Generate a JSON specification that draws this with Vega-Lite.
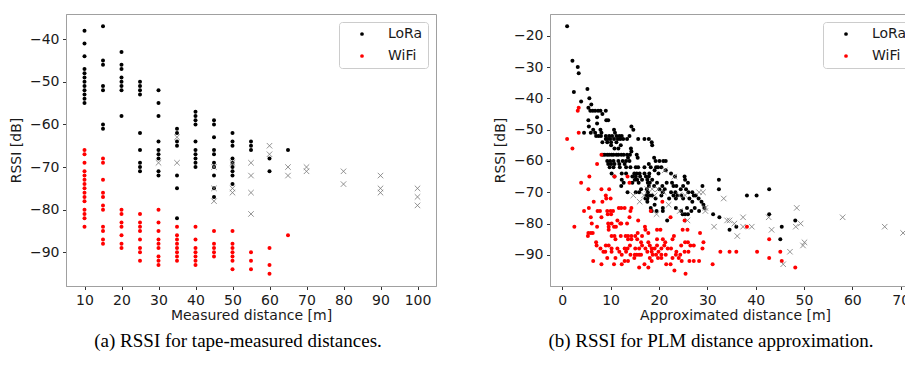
{
"$schema": "https://vega.github.io/schema/vega-lite/v6.json",
"padding": {"left": 8, "top": 13, "right": -16, "bottom": 0},
"spacing": 55,
"config": {
  "view": {"stroke": "#a0a0a0", "strokeWidth": 1},
  "axis": {"grid": false, "labelFont": "DejaVu Sans", "labelFontSize": 14, "titleFont": "DejaVu Sans", "titleFontSize": 14, "titleFontWeight": "normal", "labelColor": "#1a1a1a", "titleColor": "#1a1a1a", "tickColor": "#333", "tickSize": 3.5, "labelPadding": 3.5, "domainColor": "#a0a0a0", "labelOverlap": false, "tickCount": 12, "labelExpr": "replace(datum.label, '-', '−')"},
  "legend": {"orient": "top-right", "offset": 8, "labelFont": "DejaVu Sans", "labelFontSize": 14, "labelColor": "#1a1a1a", "padding": 5, "symbolOffset": 11, "labelOffset": 19, "rowPadding": 8, "strokeColor": "#cccccc", "fillColor": "white", "cornerRadius": 3, "symbolSize": 14, "symbolType": "circle", "symbolStrokeWidth": 0}
},
"datasets": {
"a": [
{"d":10,"r":-38,"s":"LoRa"},{"d":10,"r":-41,"s":"LoRa"},{"d":10,"r":-44,"s":"LoRa"},{"d":10,"r":-47,"s":"LoRa"},{"d":10,"r":-48,"s":"LoRa"},{"d":10,"r":-49,"s":"LoRa"},{"d":10,"r":-50,"s":"LoRa"},{"d":10,"r":-51,"s":"LoRa"},{"d":10,"r":-52,"s":"LoRa"},{"d":10,"r":-53,"s":"LoRa"},{"d":10,"r":-54,"s":"LoRa"},{"d":10,"r":-55,"s":"LoRa"},
{"d":15,"r":-37,"s":"LoRa"},{"d":15,"r":-45,"s":"LoRa"},{"d":15,"r":-46,"s":"LoRa"},{"d":15,"r":-51,"s":"LoRa"},{"d":15,"r":-52,"s":"LoRa"},{"d":15,"r":-60,"s":"LoRa"},{"d":15,"r":-61,"s":"LoRa"},
{"d":20,"r":-43,"s":"LoRa"},{"d":20,"r":-46,"s":"LoRa"},{"d":20,"r":-47,"s":"LoRa"},{"d":20,"r":-49,"s":"LoRa"},{"d":20,"r":-50,"s":"LoRa"},{"d":20,"r":-51,"s":"LoRa"},{"d":20,"r":-52,"s":"LoRa"},{"d":20,"r":-58,"s":"LoRa"},
{"d":25,"r":-50,"s":"LoRa"},{"d":25,"r":-51,"s":"LoRa"},{"d":25,"r":-52,"s":"LoRa"},{"d":25,"r":-53,"s":"LoRa"},{"d":25,"r":-62,"s":"LoRa"},{"d":25,"r":-66,"s":"LoRa"},{"d":25,"r":-69,"s":"LoRa"},{"d":25,"r":-70,"s":"LoRa"},{"d":25,"r":-71,"s":"LoRa"},
{"d":30,"r":-52,"s":"LoRa"},{"d":30,"r":-55,"s":"LoRa"},{"d":30,"r":-58,"s":"LoRa"},{"d":30,"r":-64,"s":"LoRa"},{"d":30,"r":-66,"s":"LoRa"},{"d":30,"r":-67,"s":"LoRa"},{"d":30,"r":-68,"s":"LoRa"},{"d":30,"r":-71,"s":"LoRa"},{"d":30,"r":-72,"s":"LoRa"},
{"d":35,"r":-61,"s":"LoRa"},{"d":35,"r":-62,"s":"LoRa"},{"d":35,"r":-64,"s":"LoRa"},{"d":35,"r":-65,"s":"LoRa"},{"d":35,"r":-72,"s":"LoRa"},{"d":35,"r":-75,"s":"LoRa"},{"d":35,"r":-82,"s":"LoRa"},
{"d":40,"r":-57,"s":"LoRa"},{"d":40,"r":-58,"s":"LoRa"},{"d":40,"r":-59,"s":"LoRa"},{"d":40,"r":-60,"s":"LoRa"},{"d":40,"r":-64,"s":"LoRa"},{"d":40,"r":-66,"s":"LoRa"},{"d":40,"r":-67,"s":"LoRa"},{"d":40,"r":-68,"s":"LoRa"},{"d":40,"r":-69,"s":"LoRa"},{"d":40,"r":-70,"s":"LoRa"},
{"d":45,"r":-59,"s":"LoRa"},{"d":45,"r":-60,"s":"LoRa"},{"d":45,"r":-63,"s":"LoRa"},{"d":45,"r":-66,"s":"LoRa"},{"d":45,"r":-67,"s":"LoRa"},{"d":45,"r":-69,"s":"LoRa"},{"d":45,"r":-70,"s":"LoRa"},{"d":45,"r":-72,"s":"LoRa"},{"d":45,"r":-75,"s":"LoRa"},{"d":45,"r":-77,"s":"LoRa"},
{"d":50,"r":-62,"s":"LoRa"},{"d":50,"r":-64,"s":"LoRa"},{"d":50,"r":-65,"s":"LoRa"},{"d":50,"r":-68,"s":"LoRa"},{"d":50,"r":-69,"s":"LoRa"},{"d":50,"r":-70,"s":"LoRa"},{"d":50,"r":-71,"s":"LoRa"},{"d":50,"r":-72,"s":"LoRa"},{"d":50,"r":-74,"s":"LoRa"},
{"d":55,"r":-64,"s":"LoRa"},{"d":55,"r":-65,"s":"LoRa"},{"d":55,"r":-66,"s":"LoRa"},
{"d":60,"r":-68,"s":"LoRa"},{"d":60,"r":-71,"s":"LoRa"},
{"d":65,"r":-66,"s":"LoRa"},
{"d":10,"r":-66,"s":"WiFi"},{"d":10,"r":-67,"s":"WiFi"},{"d":10,"r":-69,"s":"WiFi"},{"d":10,"r":-71,"s":"WiFi"},{"d":10,"r":-72,"s":"WiFi"},{"d":10,"r":-73,"s":"WiFi"},{"d":10,"r":-74,"s":"WiFi"},{"d":10,"r":-75,"s":"WiFi"},{"d":10,"r":-76,"s":"WiFi"},{"d":10,"r":-77,"s":"WiFi"},{"d":10,"r":-78,"s":"WiFi"},{"d":10,"r":-80,"s":"WiFi"},{"d":10,"r":-81,"s":"WiFi"},{"d":10,"r":-82,"s":"WiFi"},{"d":10,"r":-84,"s":"WiFi"},
{"d":15,"r":-68,"s":"WiFi"},{"d":15,"r":-69,"s":"WiFi"},{"d":15,"r":-73,"s":"WiFi"},{"d":15,"r":-76,"s":"WiFi"},{"d":15,"r":-77,"s":"WiFi"},{"d":15,"r":-79,"s":"WiFi"},{"d":15,"r":-80,"s":"WiFi"},{"d":15,"r":-84,"s":"WiFi"},{"d":15,"r":-85,"s":"WiFi"},{"d":15,"r":-87,"s":"WiFi"},{"d":15,"r":-88,"s":"WiFi"},
{"d":20,"r":-80,"s":"WiFi"},{"d":20,"r":-81,"s":"WiFi"},{"d":20,"r":-83,"s":"WiFi"},{"d":20,"r":-84,"s":"WiFi"},{"d":20,"r":-86,"s":"WiFi"},{"d":20,"r":-88,"s":"WiFi"},{"d":20,"r":-89,"s":"WiFi"},
{"d":25,"r":-81,"s":"WiFi"},{"d":25,"r":-83,"s":"WiFi"},{"d":25,"r":-84,"s":"WiFi"},{"d":25,"r":-85,"s":"WiFi"},{"d":25,"r":-87,"s":"WiFi"},{"d":25,"r":-89,"s":"WiFi"},{"d":25,"r":-90,"s":"WiFi"},{"d":25,"r":-92,"s":"WiFi"},
{"d":30,"r":-80,"s":"WiFi"},{"d":30,"r":-83,"s":"WiFi"},{"d":30,"r":-85,"s":"WiFi"},{"d":30,"r":-87,"s":"WiFi"},{"d":30,"r":-88,"s":"WiFi"},{"d":30,"r":-89,"s":"WiFi"},{"d":30,"r":-91,"s":"WiFi"},{"d":30,"r":-92,"s":"WiFi"},{"d":30,"r":-93,"s":"WiFi"},
{"d":35,"r":-84,"s":"WiFi"},{"d":35,"r":-86,"s":"WiFi"},{"d":35,"r":-87,"s":"WiFi"},{"d":35,"r":-88,"s":"WiFi"},{"d":35,"r":-89,"s":"WiFi"},{"d":35,"r":-90,"s":"WiFi"},{"d":35,"r":-91,"s":"WiFi"},{"d":35,"r":-92,"s":"WiFi"},
{"d":40,"r":-84,"s":"WiFi"},{"d":40,"r":-87,"s":"WiFi"},{"d":40,"r":-89,"s":"WiFi"},{"d":40,"r":-90,"s":"WiFi"},{"d":40,"r":-91,"s":"WiFi"},{"d":40,"r":-92,"s":"WiFi"},{"d":40,"r":-93,"s":"WiFi"},
{"d":45,"r":-85,"s":"WiFi"},{"d":45,"r":-88,"s":"WiFi"},{"d":45,"r":-89,"s":"WiFi"},{"d":45,"r":-90,"s":"WiFi"},{"d":45,"r":-91,"s":"WiFi"},
{"d":50,"r":-85,"s":"WiFi"},{"d":50,"r":-88,"s":"WiFi"},{"d":50,"r":-89,"s":"WiFi"},{"d":50,"r":-90,"s":"WiFi"},{"d":50,"r":-91,"s":"WiFi"},{"d":50,"r":-92,"s":"WiFi"},{"d":50,"r":-94,"s":"WiFi"},
{"d":55,"r":-90,"s":"WiFi"},{"d":55,"r":-92,"s":"WiFi"},{"d":55,"r":-94,"s":"WiFi"},
{"d":60,"r":-89,"s":"WiFi"},{"d":60,"r":-93,"s":"WiFi"},{"d":60,"r":-95,"s":"WiFi"},
{"d":65,"r":-86,"s":"WiFi"},
{"d":30,"r":-69,"s":"Lost"},{"d":35,"r":-63,"s":"Lost"},{"d":35,"r":-69,"s":"Lost"},{"d":45,"r":-70,"s":"Lost"},{"d":45,"r":-75,"s":"Lost"},{"d":45,"r":-78,"s":"Lost"},{"d":50,"r":-69,"s":"Lost"},{"d":50,"r":-75,"s":"Lost"},{"d":50,"r":-76,"s":"Lost"},{"d":55,"r":-69,"s":"Lost"},{"d":55,"r":-72,"s":"Lost"},{"d":55,"r":-76,"s":"Lost"},{"d":55,"r":-81,"s":"Lost"},{"d":60,"r":-65,"s":"Lost"},{"d":60,"r":-67,"s":"Lost"},{"d":65,"r":-70,"s":"Lost"},{"d":65,"r":-72,"s":"Lost"},{"d":70,"r":-70,"s":"Lost"},{"d":70,"r":-71,"s":"Lost"},{"d":80,"r":-71,"s":"Lost"},{"d":80,"r":-74,"s":"Lost"},{"d":90,"r":-72,"s":"Lost"},{"d":90,"r":-75,"s":"Lost"},{"d":90,"r":-76,"s":"Lost"},{"d":100,"r":-75,"s":"Lost"},{"d":100,"r":-77,"s":"Lost"},{"d":100,"r":-79,"s":"Lost"}
],
"b": [
{"d":1.0,"r":-17,"s":"LoRa"},{"d":2.1,"r":-28,"s":"LoRa"},{"d":3.2,"r":-30,"s":"LoRa"},{"d":3.4,"r":-32,"s":"LoRa"},{"d":2.4,"r":-38,"s":"LoRa"},{"d":5.2,"r":-37,"s":"LoRa"},{"d":3.9,"r":-41,"s":"LoRa"},{"d":5.6,"r":-40,"s":"LoRa"},{"d":6.0,"r":-42,"s":"LoRa"},{"d":5.4,"r":-43,"s":"LoRa"},
{"d":5.8,"r":-44,"s":"LoRa"},{"d":6.3,"r":-44,"s":"LoRa"},{"d":6.8,"r":-44,"s":"LoRa"},{"d":7.4,"r":-44,"s":"LoRa"},{"d":7.9,"r":-44,"s":"LoRa"},{"d":9.0,"r":-44,"s":"LoRa"},{"d":8.3,"r":-45,"s":"LoRa"},{"d":7.2,"r":-46,"s":"LoRa"},{"d":5.4,"r":-47,"s":"LoRa"},{"d":9.1,"r":-47,"s":"LoRa"},{"d":9.5,"r":-47,"s":"LoRa"},{"d":7.2,"r":-48,"s":"LoRa"},{"d":5.5,"r":-49,"s":"LoRa"},{"d":6.4,"r":-50,"s":"LoRa"},{"d":7.9,"r":-50,"s":"LoRa"},
{"d":4.5,"r":-51,"s":"LoRa"},{"d":5.9,"r":-51,"s":"LoRa"},{"d":6.8,"r":-51,"s":"LoRa"},{"d":8.1,"r":-51,"s":"LoRa"},{"d":10.7,"r":-50,"s":"LoRa"},{"d":10.9,"r":-51,"s":"LoRa"},
{"d":7.0,"r":-52,"s":"LoRa"},{"d":7.5,"r":-52,"s":"LoRa"},{"d":8.0,"r":-52,"s":"LoRa"},{"d":9.0,"r":-52,"s":"LoRa"},{"d":9.7,"r":-52,"s":"LoRa"},{"d":10.3,"r":-52,"s":"LoRa"},{"d":11.2,"r":-52,"s":"LoRa"},{"d":11.8,"r":-52,"s":"LoRa"},{"d":12.3,"r":-52,"s":"LoRa"},
{"d":9.0,"r":-53,"s":"LoRa"},{"d":9.4,"r":-53,"s":"LoRa"},{"d":9.9,"r":-53,"s":"LoRa"},{"d":10.7,"r":-53,"s":"LoRa"},{"d":11.5,"r":-53,"s":"LoRa"},{"d":12.0,"r":-53,"s":"LoRa"},{"d":12.6,"r":-53,"s":"LoRa"},{"d":13.4,"r":-53,"s":"LoRa"},{"d":13.9,"r":-52,"s":"LoRa"},
{"d":14.3,"r":-49,"s":"LoRa"},{"d":14.7,"r":-50,"s":"LoRa"},{"d":15.7,"r":-53,"s":"LoRa"},{"d":17.0,"r":-53,"s":"LoRa"},{"d":17.9,"r":-53,"s":"LoRa"},{"d":18.5,"r":-54,"s":"LoRa"},{"d":18.6,"r":-55,"s":"LoRa"},
{"d":8.3,"r":-54,"s":"LoRa"},{"d":9.3,"r":-54,"s":"LoRa"},{"d":10.1,"r":-54,"s":"LoRa"},{"d":11.2,"r":-54,"s":"LoRa"},
{"d":10.1,"r":-55,"s":"LoRa"},{"d":10.8,"r":-56,"s":"LoRa"},{"d":11.6,"r":-56,"s":"LoRa"},{"d":12.1,"r":-55,"s":"LoRa"},
{"d":14.2,"r":-56,"s":"LoRa"},{"d":14.3,"r":-57,"s":"LoRa"},
{"d":8.4,"r":-58,"s":"LoRa"},{"d":8.8,"r":-58,"s":"LoRa"},{"d":9.3,"r":-58,"s":"LoRa"},{"d":9.7,"r":-58,"s":"LoRa"},{"d":10.2,"r":-58,"s":"LoRa"},{"d":10.6,"r":-58,"s":"LoRa"},{"d":11.2,"r":-58,"s":"LoRa"},{"d":11.6,"r":-58,"s":"LoRa"},{"d":12.2,"r":-58,"s":"LoRa"},{"d":12.7,"r":-58,"s":"LoRa"},{"d":13.4,"r":-58,"s":"LoRa"},{"d":14.0,"r":-58,"s":"LoRa"},
{"d":13.6,"r":-59,"s":"LoRa"},{"d":13.9,"r":-60,"s":"LoRa"},{"d":15.4,"r":-58,"s":"LoRa"},{"d":15.6,"r":-59,"s":"LoRa"},
{"d":19.0,"r":-59,"s":"LoRa"},{"d":19.3,"r":-60,"s":"LoRa"},{"d":20.1,"r":-60,"s":"LoRa"},{"d":20.9,"r":-60,"s":"LoRa"},{"d":21.4,"r":-60,"s":"LoRa"},
{"d":9.3,"r":-60,"s":"LoRa"},{"d":9.9,"r":-60,"s":"LoRa"},{"d":10.6,"r":-60,"s":"LoRa"},{"d":11.6,"r":-60,"s":"LoRa"},{"d":12.5,"r":-60,"s":"LoRa"},{"d":13.2,"r":-60,"s":"LoRa"},
{"d":9.5,"r":-61,"s":"LoRa"},{"d":10.1,"r":-61,"s":"LoRa"},{"d":10.8,"r":-61,"s":"LoRa"},{"d":11.8,"r":-61,"s":"LoRa"},{"d":12.9,"r":-61,"s":"LoRa"},
{"d":9.8,"r":-62,"s":"LoRa"},{"d":10.6,"r":-62,"s":"LoRa"},{"d":11.9,"r":-62,"s":"LoRa"},{"d":13.2,"r":-62,"s":"LoRa"},{"d":14.1,"r":-62,"s":"LoRa"},{"d":15.2,"r":-62,"s":"LoRa"},{"d":15.7,"r":-62,"s":"LoRa"},{"d":17.0,"r":-62,"s":"LoRa"},{"d":17.9,"r":-61,"s":"LoRa"},{"d":18.3,"r":-62,"s":"LoRa"},{"d":19.4,"r":-62,"s":"LoRa"},{"d":19.8,"r":-62,"s":"LoRa"},{"d":20.5,"r":-62,"s":"LoRa"},
{"d":10.2,"r":-64,"s":"LoRa"},{"d":12.3,"r":-64,"s":"LoRa"},{"d":13.2,"r":-64,"s":"LoRa"},{"d":14.9,"r":-64,"s":"LoRa"},{"d":15.4,"r":-64,"s":"LoRa"},{"d":16.0,"r":-64,"s":"LoRa"},{"d":17.0,"r":-64,"s":"LoRa"},{"d":18.0,"r":-64,"s":"LoRa"},{"d":19.1,"r":-63,"s":"LoRa"},{"d":19.9,"r":-64,"s":"LoRa"},{"d":21.4,"r":-63,"s":"LoRa"},{"d":22.5,"r":-64,"s":"LoRa"},
{"d":10.8,"r":-65,"s":"LoRa"},{"d":14.5,"r":-65,"s":"LoRa"},{"d":15.2,"r":-65,"s":"LoRa"},{"d":16.1,"r":-65,"s":"LoRa"},{"d":17.3,"r":-65,"s":"LoRa"},{"d":17.9,"r":-65,"s":"LoRa"},{"d":18.6,"r":-66,"s":"LoRa"},{"d":23.3,"r":-65,"s":"LoRa"},{"d":25.3,"r":-65,"s":"LoRa"},
{"d":12.3,"r":-66,"s":"LoRa"},{"d":12.7,"r":-67,"s":"LoRa"},{"d":15.0,"r":-66,"s":"LoRa"},{"d":15.5,"r":-66,"s":"LoRa"},{"d":16.5,"r":-66,"s":"LoRa"},{"d":17.6,"r":-66,"s":"LoRa"},{"d":18.1,"r":-67,"s":"LoRa"},
{"d":12.2,"r":-68,"s":"LoRa"},{"d":14.5,"r":-67,"s":"LoRa"},{"d":15.8,"r":-67,"s":"LoRa"},{"d":17.7,"r":-67,"s":"LoRa"},{"d":19.6,"r":-67,"s":"LoRa"},{"d":21.6,"r":-67,"s":"LoRa"},{"d":22.7,"r":-67,"s":"LoRa"},{"d":25.4,"r":-66,"s":"LoRa"},{"d":26.0,"r":-67,"s":"LoRa"},
{"d":17.9,"r":-68,"s":"LoRa"},{"d":19.0,"r":-68,"s":"LoRa"},{"d":20.7,"r":-68,"s":"LoRa"},{"d":23.0,"r":-68,"s":"LoRa"},{"d":23.6,"r":-68,"s":"LoRa"},{"d":25.0,"r":-68,"s":"LoRa"},{"d":29.0,"r":-68,"s":"LoRa"},
{"d":16.3,"r":-69,"s":"LoRa"},{"d":17.5,"r":-69,"s":"LoRa"},{"d":20.1,"r":-69,"s":"LoRa"},{"d":21.2,"r":-69,"s":"LoRa"},{"d":24.5,"r":-69,"s":"LoRa"},{"d":25.6,"r":-69,"s":"LoRa"},
{"d":13.5,"r":-70,"s":"LoRa"},{"d":15.2,"r":-70,"s":"LoRa"},{"d":15.9,"r":-70,"s":"LoRa"},{"d":17.7,"r":-70,"s":"LoRa"},{"d":20.8,"r":-70,"s":"LoRa"},{"d":22.5,"r":-70,"s":"LoRa"},{"d":23.4,"r":-70,"s":"LoRa"},{"d":26.1,"r":-70,"s":"LoRa"},{"d":26.9,"r":-70,"s":"LoRa"},
{"d":17.4,"r":-71,"s":"LoRa"},{"d":18.1,"r":-71,"s":"LoRa"},{"d":18.6,"r":-71,"s":"LoRa"},{"d":20.5,"r":-71,"s":"LoRa"},{"d":23.0,"r":-71,"s":"LoRa"},{"d":23.8,"r":-71,"s":"LoRa"},{"d":24.6,"r":-71,"s":"LoRa"},{"d":27.2,"r":-71,"s":"LoRa"},{"d":27.6,"r":-71,"s":"LoRa"},
{"d":17.2,"r":-72,"s":"LoRa"},{"d":17.6,"r":-72,"s":"LoRa"},{"d":19.3,"r":-72,"s":"LoRa"},{"d":22.1,"r":-72,"s":"LoRa"},{"d":23.5,"r":-72,"s":"LoRa"},{"d":25.0,"r":-72,"s":"LoRa"},{"d":26.3,"r":-72,"s":"LoRa"},{"d":28.2,"r":-72,"s":"LoRa"},
{"d":17.6,"r":-73,"s":"LoRa"},{"d":19.1,"r":-74,"s":"LoRa"},{"d":26.9,"r":-73,"s":"LoRa"},{"d":28.8,"r":-73,"s":"LoRa"},{"d":29.2,"r":-74,"s":"LoRa"},
{"d":18.3,"r":-75,"s":"LoRa"},{"d":20.8,"r":-75,"s":"LoRa"},{"d":23.5,"r":-75,"s":"LoRa"},{"d":25.8,"r":-75,"s":"LoRa"},{"d":27.4,"r":-75,"s":"LoRa"},{"d":29.4,"r":-75,"s":"LoRa"},
{"d":18.5,"r":-76,"s":"LoRa"},{"d":19.5,"r":-76,"s":"LoRa"},{"d":20.8,"r":-76,"s":"LoRa"},{"d":24.6,"r":-76,"s":"LoRa"},{"d":26.7,"r":-76,"s":"LoRa"},{"d":28.3,"r":-76,"s":"LoRa"},
{"d":24.9,"r":-77,"s":"LoRa"},{"d":25.4,"r":-77,"s":"LoRa"},{"d":26.0,"r":-77,"s":"LoRa"},{"d":31.2,"r":-77,"s":"LoRa"},
{"d":21.7,"r":-79,"s":"LoRa"},{"d":32.5,"r":-78,"s":"LoRa"},{"d":32.4,"r":-66,"s":"LoRa"},{"d":32.4,"r":-69,"s":"LoRa"},{"d":38.2,"r":-71,"s":"LoRa"},{"d":40.2,"r":-71,"s":"LoRa"},{"d":42.8,"r":-69,"s":"LoRa"},{"d":42.8,"r":-77,"s":"LoRa"},{"d":36.0,"r":-81,"s":"LoRa"},{"d":34.6,"r":-82,"s":"LoRa"},{"d":45.4,"r":-81,"s":"LoRa"},{"d":48.2,"r":-79,"s":"LoRa"},{"d":45.1,"r":-85,"s":"LoRa"},
{"d":1.0,"r":-53,"s":"WiFi"},{"d":2.1,"r":-56,"s":"WiFi"},{"d":3.4,"r":-43,"s":"WiFi"},{"d":3.2,"r":-44,"s":"WiFi"},{"d":3.4,"r":-51,"s":"WiFi"},{"d":2.5,"r":-81,"s":"WiFi"},{"d":3.9,"r":-67,"s":"WiFi"},
{"d":8.1,"r":-58,"s":"WiFi"},{"d":7.2,"r":-61,"s":"WiFi"},{"d":5.6,"r":-65,"s":"WiFi"},{"d":10.8,"r":-65,"s":"WiFi"},{"d":13.5,"r":-65,"s":"WiFi"},{"d":13.9,"r":-67,"s":"WiFi"},
{"d":5.4,"r":-69,"s":"WiFi"},{"d":8.1,"r":-69,"s":"WiFi"},{"d":9.7,"r":-69,"s":"WiFi"},
{"d":6.5,"r":-73,"s":"WiFi"},{"d":9.0,"r":-71,"s":"WiFi"},{"d":9.1,"r":-72,"s":"WiFi"},{"d":10.0,"r":-72,"s":"WiFi"},{"d":8.3,"r":-73,"s":"WiFi"},
{"d":4.5,"r":-76,"s":"WiFi"},{"d":5.5,"r":-75,"s":"WiFi"},{"d":7.3,"r":-76,"s":"WiFi"},{"d":7.8,"r":-76,"s":"WiFi"},{"d":9.3,"r":-76,"s":"WiFi"},{"d":10.0,"r":-76,"s":"WiFi"},{"d":10.5,"r":-76,"s":"WiFi"},{"d":11.7,"r":-75,"s":"WiFi"},{"d":12.2,"r":-75,"s":"WiFi"},{"d":12.9,"r":-75,"s":"WiFi"},{"d":14.3,"r":-75,"s":"WiFi"},{"d":14.1,"r":-76,"s":"WiFi"},
{"d":9.4,"r":-77,"s":"WiFi"},{"d":10.1,"r":-77,"s":"WiFi"},
{"d":5.9,"r":-78,"s":"WiFi"},{"d":8.1,"r":-78,"s":"WiFi"},{"d":13.9,"r":-78,"s":"WiFi"},{"d":18.3,"r":-76,"s":"WiFi"},{"d":20.7,"r":-73,"s":"WiFi"},
{"d":6.1,"r":-80,"s":"WiFi"},{"d":9.5,"r":-80,"s":"WiFi"},{"d":10.2,"r":-80,"s":"WiFi"},{"d":11.4,"r":-79,"s":"WiFi"},{"d":12.0,"r":-80,"s":"WiFi"},{"d":13.4,"r":-80,"s":"WiFi"},{"d":15.7,"r":-79,"s":"WiFi"},{"d":17.1,"r":-81,"s":"WiFi"},{"d":17.2,"r":-82,"s":"WiFi"},
{"d":5.4,"r":-83,"s":"WiFi"},{"d":5.9,"r":-83,"s":"WiFi"},{"d":6.3,"r":-83,"s":"WiFi"},{"d":7.2,"r":-81,"s":"WiFi"},{"d":9.6,"r":-81,"s":"WiFi"},{"d":10.7,"r":-81,"s":"WiFi"},{"d":11.1,"r":-81,"s":"WiFi"},{"d":12.2,"r":-80,"s":"WiFi"},
{"d":5.3,"r":-84,"s":"WiFi"},{"d":9.6,"r":-82,"s":"WiFi"},{"d":10.2,"r":-84,"s":"WiFi"},{"d":10.8,"r":-84,"s":"WiFi"},{"d":12.1,"r":-84,"s":"WiFi"},{"d":13.1,"r":-84,"s":"WiFi"},{"d":13.6,"r":-84,"s":"WiFi"},{"d":14.3,"r":-84,"s":"WiFi"},{"d":15.1,"r":-84,"s":"WiFi"},{"d":15.6,"r":-83,"s":"WiFi"},{"d":16.5,"r":-84,"s":"WiFi"},{"d":17.8,"r":-83,"s":"WiFi"},{"d":19.6,"r":-82,"s":"WiFi"},{"d":20.3,"r":-82,"s":"WiFi"},{"d":22.4,"r":-78,"s":"WiFi"},{"d":24.9,"r":-82,"s":"WiFi"},{"d":25.9,"r":-82,"s":"WiFi"},{"d":25.3,"r":-79,"s":"WiFi"},
{"d":7.0,"r":-86,"s":"WiFi"},{"d":11.0,"r":-85,"s":"WiFi"},{"d":13.6,"r":-85,"s":"WiFi"},{"d":14.3,"r":-85,"s":"WiFi"},{"d":15.5,"r":-85,"s":"WiFi"},{"d":16.3,"r":-86,"s":"WiFi"},{"d":17.8,"r":-86,"s":"WiFi"},{"d":19.6,"r":-85,"s":"WiFi"},{"d":20.8,"r":-85,"s":"WiFi"},{"d":21.3,"r":-86,"s":"WiFi"},{"d":22.8,"r":-85,"s":"WiFi"},{"d":23.1,"r":-84,"s":"WiFi"},{"d":24.6,"r":-87,"s":"WiFi"},{"d":25.4,"r":-86,"s":"WiFi"},{"d":26.0,"r":-86,"s":"WiFi"},{"d":26.5,"r":-87,"s":"WiFi"},{"d":27.2,"r":-87,"s":"WiFi"},{"d":28.5,"r":-83,"s":"WiFi"},{"d":29.2,"r":-86,"s":"WiFi"},
{"d":7.1,"r":-87,"s":"WiFi"},{"d":7.9,"r":-88,"s":"WiFi"},{"d":9.0,"r":-87,"s":"WiFi"},{"d":9.6,"r":-87,"s":"WiFi"},{"d":10.2,"r":-88,"s":"WiFi"},{"d":11.4,"r":-88,"s":"WiFi"},{"d":12.9,"r":-88,"s":"WiFi"},{"d":13.5,"r":-88,"s":"WiFi"},{"d":14.0,"r":-87,"s":"WiFi"},{"d":15.1,"r":-88,"s":"WiFi"},{"d":15.9,"r":-88,"s":"WiFi"},{"d":16.5,"r":-87,"s":"WiFi"},{"d":17.2,"r":-88,"s":"WiFi"},{"d":18.1,"r":-87,"s":"WiFi"},{"d":18.5,"r":-88,"s":"WiFi"},{"d":19.1,"r":-88,"s":"WiFi"},{"d":19.6,"r":-87,"s":"WiFi"},{"d":20.5,"r":-88,"s":"WiFi"},{"d":21.1,"r":-87,"s":"WiFi"},{"d":21.8,"r":-88,"s":"WiFi"},{"d":22.5,"r":-88,"s":"WiFi"},{"d":23.6,"r":-89,"s":"WiFi"},{"d":26.1,"r":-89,"s":"WiFi"},{"d":29.0,"r":-88,"s":"WiFi"},
{"d":8.5,"r":-89,"s":"WiFi"},{"d":8.9,"r":-89,"s":"WiFi"},{"d":10.2,"r":-89,"s":"WiFi"},{"d":11.8,"r":-89,"s":"WiFi"},{"d":12.3,"r":-90,"s":"WiFi"},{"d":13.2,"r":-89,"s":"WiFi"},{"d":14.1,"r":-90,"s":"WiFi"},{"d":15.0,"r":-90,"s":"WiFi"},{"d":15.4,"r":-90,"s":"WiFi"},{"d":15.9,"r":-90,"s":"WiFi"},{"d":16.3,"r":-90,"s":"WiFi"},{"d":17.6,"r":-89,"s":"WiFi"},{"d":18.5,"r":-89,"s":"WiFi"},{"d":18.7,"r":-90,"s":"WiFi"},{"d":19.4,"r":-90,"s":"WiFi"},{"d":19.9,"r":-89,"s":"WiFi"},{"d":20.5,"r":-90,"s":"WiFi"},{"d":21.4,"r":-90,"s":"WiFi"},{"d":23.5,"r":-90,"s":"WiFi"},{"d":24.4,"r":-90,"s":"WiFi"},{"d":25.3,"r":-89,"s":"WiFi"},{"d":32.7,"r":-89,"s":"WiFi"},{"d":34.6,"r":-89,"s":"WiFi"},{"d":36.0,"r":-89,"s":"WiFi"},{"d":40.3,"r":-89,"s":"WiFi"},{"d":45.1,"r":-89,"s":"WiFi"},
{"d":6.4,"r":-92,"s":"WiFi"},{"d":8.1,"r":-93,"s":"WiFi"},{"d":9.3,"r":-91,"s":"WiFi"},{"d":10.7,"r":-93,"s":"WiFi"},{"d":11.0,"r":-91,"s":"WiFi"},{"d":12.3,"r":-93,"s":"WiFi"},{"d":12.9,"r":-92,"s":"WiFi"},{"d":13.6,"r":-92,"s":"WiFi"},{"d":14.9,"r":-91,"s":"WiFi"},{"d":15.9,"r":-94,"s":"WiFi"},{"d":17.0,"r":-93,"s":"WiFi"},{"d":17.8,"r":-94,"s":"WiFi"},{"d":18.1,"r":-91,"s":"WiFi"},{"d":18.5,"r":-92,"s":"WiFi"},{"d":19.8,"r":-91,"s":"WiFi"},{"d":20.5,"r":-91,"s":"WiFi"},{"d":21.5,"r":-93,"s":"WiFi"},{"d":22.4,"r":-93,"s":"WiFi"},{"d":22.8,"r":-91,"s":"WiFi"},{"d":23.2,"r":-95,"s":"WiFi"},{"d":24.1,"r":-91,"s":"WiFi"},{"d":24.7,"r":-92,"s":"WiFi"},{"d":25.5,"r":-96,"s":"WiFi"},{"d":26.3,"r":-92,"s":"WiFi"},{"d":27.2,"r":-92,"s":"WiFi"},{"d":28.3,"r":-92,"s":"WiFi"},{"d":31.1,"r":-93,"s":"WiFi"},{"d":42.8,"r":-91,"s":"WiFi"},{"d":45.4,"r":-92,"s":"WiFi"},{"d":48.2,"r":-94,"s":"WiFi"},{"d":42.8,"r":-85,"s":"WiFi"},{"d":38.2,"r":-81,"s":"WiFi"},
{"d":14.7,"r":-71,"s":"Lost"},{"d":16.9,"r":-71,"s":"Lost"},{"d":17.6,"r":-69,"s":"Lost"},{"d":18.6,"r":-69,"s":"Lost"},{"d":19.1,"r":-71,"s":"Lost"},{"d":19.5,"r":-77,"s":"Lost"},{"d":19.8,"r":-69,"s":"Lost"},{"d":21.2,"r":-63,"s":"Lost"},{"d":23.2,"r":-65,"s":"Lost"},{"d":24.2,"r":-71,"s":"Lost"},{"d":24.3,"r":-76,"s":"Lost"},{"d":25.4,"r":-71,"s":"Lost"},{"d":25.9,"r":-79,"s":"Lost"},{"d":28.3,"r":-70,"s":"Lost"},{"d":29.1,"r":-70,"s":"Lost"},{"d":29.6,"r":-76,"s":"Lost"},{"d":29.6,"r":-75,"s":"Lost"},{"d":31.4,"r":-81,"s":"Lost"},{"d":33.4,"r":-72,"s":"Lost"},{"d":34.1,"r":-79,"s":"Lost"},{"d":34.6,"r":-79,"s":"Lost"},{"d":35.6,"r":-80,"s":"Lost"},{"d":36.2,"r":-84,"s":"Lost"},{"d":37.4,"r":-78,"s":"Lost"},{"d":37.4,"r":-81,"s":"Lost"},{"d":39.2,"r":-81,"s":"Lost"},{"d":42.7,"r":-78,"s":"Lost"},{"d":43.3,"r":-82,"s":"Lost"},{"d":45.7,"r":-93,"s":"Lost"},{"d":47.1,"r":-89,"s":"Lost"},{"d":48.3,"r":-81,"s":"Lost"},{"d":48.5,"r":-75,"s":"Lost"},{"d":49.3,"r":-80,"s":"Lost"},{"d":49.8,"r":-87,"s":"Lost"},{"d":50.1,"r":-86,"s":"Lost"},{"d":58.0,"r":-78,"s":"Lost"},{"d":66.7,"r":-81,"s":"Lost"},{"d":70.5,"r":-83,"s":"Lost"},{"d":21.0,"r":-70,"s":"Lost"},{"d":22.0,"r":-74,"s":"Lost"},{"d":16.0,"r":-73,"s":"Lost"}
]
},
"hconcat": [
{
  "width": 370, "height": 272,
  "data": {"name": "a"},
  "title": {"text": "(a) RSSI for tape-measured distances.", "orient": "bottom", "font": "Liberation Serif", "fontSize": 19, "fontWeight": "normal", "color": "#000", "anchor": "middle", "offset": 10, "dx": -13},
  "layer": [
    {"transform": [{"filter": "datum.s != 'Lost'"}],
     "mark": {"type": "point", "filled": true, "size": 16, "opacity": 1, "strokeWidth": 0},
     "encoding": {
       "x": {"field": "d", "type": "quantitative", "scale": {"domain": [5, 105], "nice": false, "zero": false}, "axis": {"values": [10,20,30,40,50,60,70,80,90,100], "tickCount": 12, "title": "Measured distance [m]", "titlePadding": 1, "labelOverlap": false}},
       "y": {"field": "r", "type": "quantitative", "scale": {"domain": [-97.9, -34.1], "nice": false, "zero": false}, "axis": {"values": [-90,-80,-70,-60,-50,-40], "tickCount": 12, "title": "RSSI [dB]", "titlePadding": 6, "labelOverlap": false}},
       "color": {"field": "s", "type": "nominal", "scale": {"domain": ["LoRa", "WiFi"], "range": ["#000000", "#ff0000"]}, "legend": {"title": null}}
     }},
    {"transform": [{"filter": "datum.s == 'Lost'"}],
     "mark": {"type": "point", "shape": "M-1,-1L1,1M-1,1L1,-1", "filled": false, "size": 30, "stroke": "#777777", "strokeWidth": 0.8, "opacity": 1},
     "encoding": {
       "x": {"field": "d", "type": "quantitative"},
       "y": {"field": "r", "type": "quantitative"}
     }}
  ]
},
{
  "width": 370, "height": 272,
  "data": {"name": "b"},
  "title": {"text": "(b) RSSI for PLM distance approximation.", "orient": "bottom", "font": "Liberation Serif", "fontSize": 19, "fontWeight": "normal", "color": "#000", "anchor": "middle", "offset": 10, "dx": -24},
  "layer": [
    {"transform": [{"filter": "datum.s != 'Lost'"}],
     "mark": {"type": "point", "filled": true, "size": 16, "opacity": 1, "strokeWidth": 0},
     "encoding": {
       "x": {"field": "d", "type": "quantitative", "scale": {"domain": [-2.54, 74], "nice": false, "zero": false}, "axis": {"values": [0,10,20,30,40,50,60,70], "tickCount": 12, "title": "Approximated distance [m]", "titlePadding": 1, "labelOverlap": false}},
       "y": {"field": "r", "type": "quantitative", "scale": {"domain": [-99.95, -13.05], "nice": false, "zero": false}, "axis": {"values": [-90,-80,-70,-60,-50,-40,-30,-20], "tickCount": 12, "title": "RSSI [dB]", "titlePadding": 6, "labelOverlap": false}},
       "color": {"field": "s", "type": "nominal", "scale": {"domain": ["LoRa", "WiFi"], "range": ["#000000", "#ff0000"]}, "legend": {"title": null}}
     }},
    {"transform": [{"filter": "datum.s == 'Lost'"}],
     "mark": {"type": "point", "shape": "M-1,-1L1,1M-1,1L1,-1", "filled": false, "size": 30, "stroke": "#777777", "strokeWidth": 0.8, "opacity": 1},
     "encoding": {
       "x": {"field": "d", "type": "quantitative"},
       "y": {"field": "r", "type": "quantitative"}
     }}
  ]
}
],
"resolve": {"scale": {"color": "independent"}}
}
